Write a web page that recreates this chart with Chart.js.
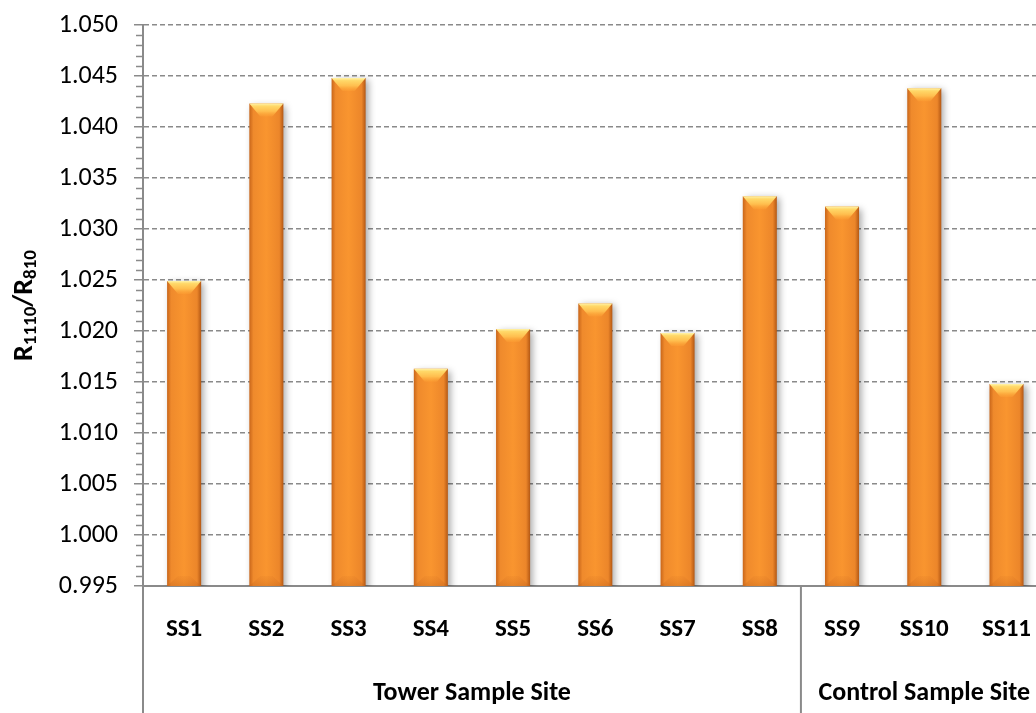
<!DOCTYPE html>
<html>
<head>
<meta charset="utf-8">
<script src="https://cdn.jsdelivr.net/npm/chart.js@4.4.1/dist/chart.umd.min.js"></script>
<style>
  html, body { margin: 0; padding: 0; background: #fff; overflow: hidden; }
  #wrap { width: 1052px; height: 717px; margin-top: -4px; }
</style>
</head>
<body>
<div id="wrap"><canvas id="ratioChart"></canvas></div>
<script>
// Данные с картинки
const categories = ['SS1', 'SS2', 'SS3', 'SS4', 'SS5', 'SS6', 'SS7', 'SS8', 'SS9', 'SS10', 'SS11'];
const ratios = [1.0249, 1.0423, 1.0448, 1.0163, 1.0202, 1.0227, 1.0198, 1.0332, 1.0322, 1.0438, 1.0148];
const groupNames = ['Tower Sample Site', 'Control Sample Site'];
const groupSizes = [8, 3];
const yMin = 0.995;
const yMax = 1.050;
const yStep = 0.005;
const yMinorStep = 0.001;

const FONT = 'Carlito, Lato, sans-serif';
const AXIS_GRAY = '#8a8a8a';

// Горизонтальный градиент для каждого столбика
function barFill(ctx) {
    const chart = ctx.chart;
    const xs = chart.scales.x;
    if (!xs || !chart.chartArea) return '#f39030';
    const cx = xs.getPixelForValue(ctx.dataIndex);
    const half = 17;
    const g = chart.ctx.createLinearGradient(cx - half, 0, cx + half, 0);
    g.addColorStop(0, '#c9661a');
    g.addColorStop(0.12, '#ef8a2c');
    g.addColorStop(0.5, '#f9952f');
    g.addColorStop(0.88, '#ec862a');
    g.addColorStop(1, '#b45814');
    return g;
}

// Тень, фаски, подписи групп, малые деления, заголовок оси
const decoPlugin = {
    id: 'deco',
    beforeDatasetsDraw(chart) {
        const c = chart.ctx;
        c.save();
        c.shadowColor = 'rgba(0,0,0,0.35)';
        c.shadowBlur = 7;
        c.shadowOffsetX = 3;
        c.shadowOffsetY = 2;
    },
    afterDatasetsDraw(chart) {
        const c = chart.ctx;
        c.restore();
        const area = chart.chartArea;
        const meta = chart.getDatasetMeta(0);
        c.save();
        meta.data.forEach(bar => {
            const p = bar.getProps(['x', 'y', 'width'], true);
            const l = p.x - p.width / 2;
            const r = p.x + p.width / 2;
            const inset = p.width * 0.32;
            // верхняя фаска
            const gt = c.createLinearGradient(0, p.y, 0, p.y + 13);
            gt.addColorStop(0, '#fff3a8');
            gt.addColorStop(0.2, '#ffd868');
            gt.addColorStop(0.6, '#ffbe4e');
            gt.addColorStop(1, 'rgba(255,165,55,0.3)');
            c.fillStyle = gt;
            c.beginPath();
            c.moveTo(l, p.y);
            c.lineTo(r, p.y);
            c.lineTo(r - inset, p.y + 13);
            c.lineTo(l + inset, p.y + 13);
            c.closePath();
            c.fill();
            // нижняя фаска
            const b = area.bottom;
            const gb = c.createLinearGradient(0, b - 10, 0, b);
            gb.addColorStop(0, 'rgba(210,110,35,0.1)');
            gb.addColorStop(1, 'rgba(190,95,25,0.35)');
            c.fillStyle = gb;
            c.beginPath();
            c.moveTo(l, b);
            c.lineTo(r, b);
            c.lineTo(r - inset, b - 10);
            c.lineTo(l + inset, b - 10);
            c.closePath();
            c.fill();
        });
        c.restore();
    },
    afterDraw(chart) {
        const c = chart.ctx;
        const area = chart.chartArea;
        const xs = chart.scales.x;
        const ys = chart.scales.y;
        const H = chart.height;
        c.save();

        // малые деления на оси Y
        c.strokeStyle = AXIS_GRAY;
        c.lineWidth = 1.5;
        const n = Math.round((yMax - yMin) / yMinorStep);
        for (let i = 0; i <= n; i++) {
            if (i % 5 === 0) continue;
            const py = Math.round(ys.getPixelForValue(yMin + i * yMinorStep)) + 0.5;
            c.beginPath();
            c.moveTo(area.left - 7, py);
            c.lineTo(area.left, py);
            c.stroke();
        }

        // вертикальные линии под осью X
        c.lineWidth = 2;
        let idx = 0;
        const bounds = [0];
        groupSizes.forEach(s => { idx += s; bounds.push(idx); });
        const step = xs.getPixelForValue(1) - xs.getPixelForValue(0);
        const edge = i => xs.getPixelForValue(0) - step / 2 + i * step;
        c.beginPath();
        c.moveTo(area.left, area.bottom);
        c.lineTo(area.left, H);
        bounds.slice(1).forEach(i => {
            c.moveTo(edge(i), area.bottom);
            c.lineTo(edge(i), H);
        });
        c.stroke();

        // подписи групп
        c.fillStyle = '#000';
        c.font = 'bold 26px ' + FONT;
        c.textAlign = 'center';
        c.textBaseline = 'middle';
        groupNames.forEach((name, g) => {
            const mid = (edge(bounds[g]) + edge(bounds[g + 1])) / 2;
            c.fillText(name, mid, area.bottom + 107);
        });

        // заголовок оси Y: R1110/R810 с индексами
        const parts = [
            { t: 'R', sub: false }, { t: '1110', sub: true },
            { t: '/R', sub: false }, { t: '810', sub: true }
        ];
        const big = 'bold 28px ' + FONT;
        const small = 'bold 19px ' + FONT;
        let total = 0;
        parts.forEach(p => { c.font = p.sub ? small : big; p.w = c.measureText(p.t).width; total += p.w; });
        c.translate(22, (area.top + area.bottom) / 2);
        c.rotate(-Math.PI / 2);
        c.textAlign = 'left';
        c.textBaseline = 'alphabetic';
        let x = -total / 2;
        parts.forEach(p => {
            c.font = p.sub ? small : big;
            c.fillText(p.t, x, p.sub ? 14 : 10);
            x += p.w;
        });
        c.restore();
    }
};

new Chart(document.getElementById('ratioChart'), {
    type: 'bar',
    data: {
        labels: categories,
        datasets: [{
            data: ratios,
            backgroundColor: barFill,
            borderWidth: 0,
            barPercentage: 0.414,
            categoryPercentage: 1.0
        }]
    },
    options: {
        responsive: true,
        maintainAspectRatio: false,
        animation: false,
        layout: { padding: { top: 20, right: 0, left: 0, bottom: 0 } },
        plugins: {
            legend: { display: false },
            tooltip: { enabled: false }
        },
        scales: {
            x: {
                grid: { display: false },
                border: { display: true, color: AXIS_GRAY, width: 2 },
                ticks: {
                    color: '#000',
                    font: { family: FONT, size: 25, weight: 'bold' },
                    padding: 21,
                    maxRotation: 0,
                    autoSkip: false
                },
                afterFit: s => { s.height = 127; }
            },
            y: {
                min: yMin,
                max: yMax,
                grid: {
                    color: AXIS_GRAY,
                    lineWidth: 1.5,
                    tickLength: 9,
                    tickColor: AXIS_GRAY,
                    tickBorderDash: []
                },
                border: { display: true, color: AXIS_GRAY, width: 2, dash: [5, 3] },
                ticks: {
                    stepSize: yStep,
                    color: '#000',
                    font: { family: FONT, size: 26, lineHeight: 1 },
                    padding: 16,
                    callback: v => v.toFixed(3)
                },
                afterFit: s => { s.width = 143; }
            }
        }
    },
    plugins: [decoPlugin]
});
</script>
</body>
</html>
